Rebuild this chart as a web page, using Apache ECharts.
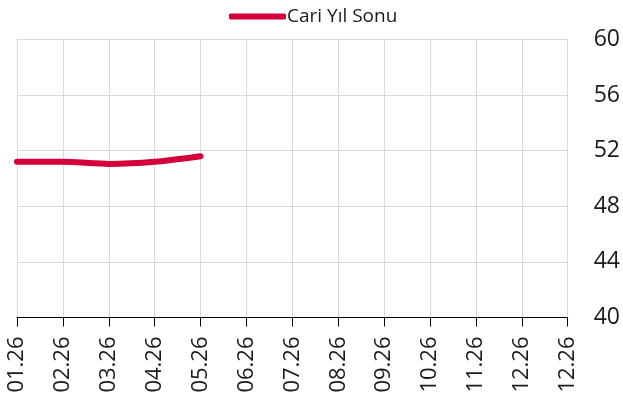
<!DOCTYPE html>
<html>
<head>
<meta charset="utf-8">
<script src="https://cdn.jsdelivr.net/npm/echarts@6/dist/echarts.min.js"></script>
<style>
html,body{margin:0;padding:0;background:#fff;}
#chart{width:623px;height:400px;}
</style>
</head>
<body>
<div id="chart"></div>
<script>
var categories = ['01.26','02.26','03.26','04.26','05.26','06.26','07.26','08.26','09.26','10.26','11.26','12.26','12.26'];
var seriesName = 'Cari Yıl Sonu';
var cariYilSonu = [51.2, 51.2, 51.05, 51.2, 51.6];
var yTicks = [40, 44, 48, 52, 56, 60];

var chart = echarts.init(document.getElementById('chart'), null, {renderer: 'canvas'});
var font = 'Open Sans';
chart.setOption({
  animation: false,
  backgroundColor: '#ffffff',
  textStyle: {fontFamily: font},
  legend: {
    data: [seriesName],
    top: 2,
    left: 224,
    icon: 'roundRect',
    itemWidth: 57,
    itemHeight: 6,
    itemGap: 10,
    textStyle: {fontFamily: font, fontSize: 19, color: '#1a1a1a', padding: [0,0,0,-4]}
  },
  grid: {left: 17, right: 54.5, top: 39.5, bottom: 82.5},
  xAxis: {
    type: 'category',
    data: categories,
    boundaryGap: false,
    axisLine: {show: true, lineStyle: {color: '#000', width: 1}},
    axisTick: {show: true, length: 9, alignWithLabel: true, interval: 0, lineStyle: {color: '#000'}},
    axisLabel: {interval: 0, rotate: 90, margin: 19, fontFamily: font, fontSize: 22, color: '#1a1a1a'},
    splitLine: {show: true, interval: 0, lineStyle: {color: '#dadada', width: 1}}
  },
  yAxis: {
    type: 'value',
    position: 'right',
    min: yTicks[0],
    max: yTicks[yTicks.length - 1],
    interval: yTicks[1] - yTicks[0],
    axisLine: {show: false},
    axisTick: {show: false},
    axisLabel: {margin: 26, fontFamily: font, fontSize: 23, color: '#1a1a1a'},
    splitLine: {show: true, lineStyle: {color: '#dadada', width: 1}}
  },
  series: [{
    name: seriesName,
    type: 'line',
    data: cariYilSonu,
    smooth: 0.2,
    showSymbol: false,
    symbol: 'none',
    color: '#d4003a',
    lineStyle: {color: '#d4003a', width: 6, cap: 'round'}
  }]
});
</script>
</body>
</html>
